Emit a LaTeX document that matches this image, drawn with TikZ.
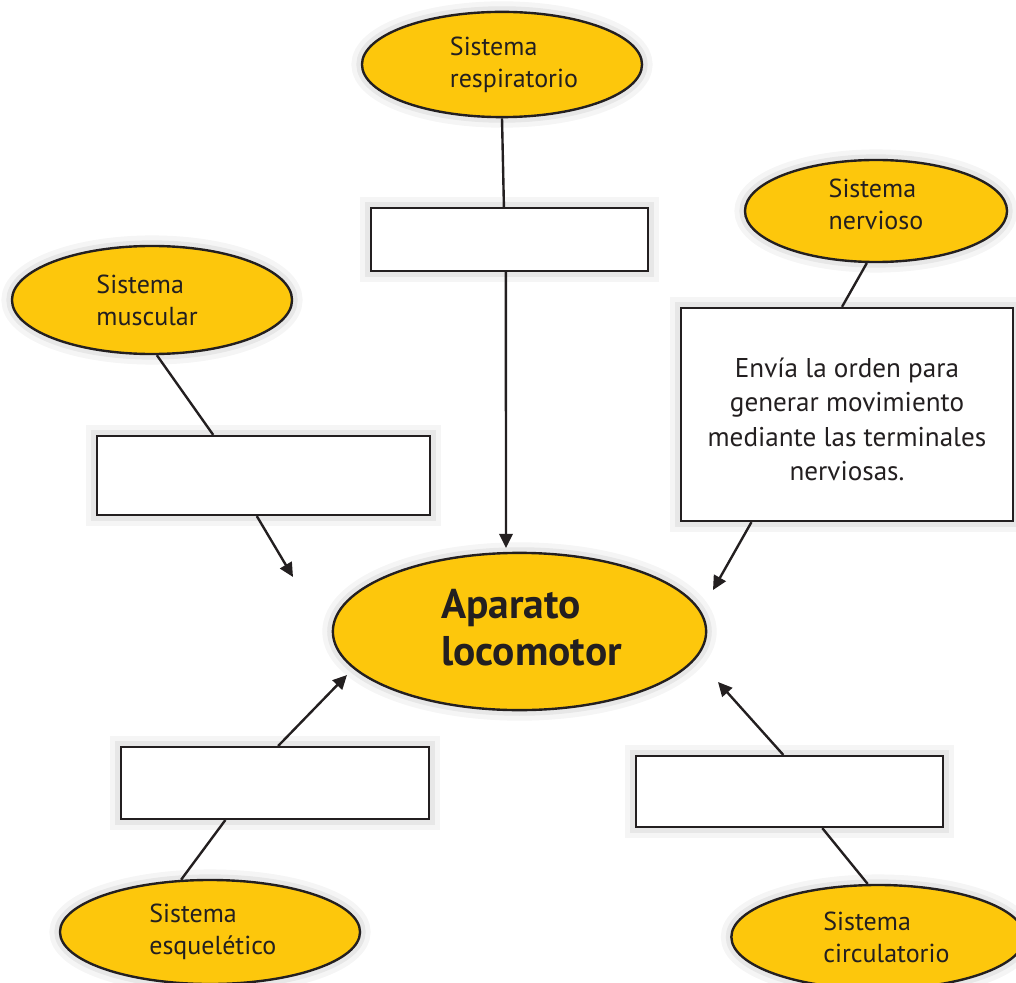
\documentclass[tikz,border=0pt]{standalone}
\usepackage{fontspec}
\setmainfont{PT Sans}
\usepackage{xcolor}
\usepackage{tikz}
\usetikzlibrary{shapes.geometric,arrows.meta,positioning,calc}

\definecolor{amarillo}{HTML}{FDC70C}
\definecolor{tinta}{HTML}{231F20}

\begin{document}
\begin{tikzpicture}[x=0.025cm, y=-0.025cm,
		halo/.style={preaction={draw=black, draw opacity=0.04, line width=15pt},
			preaction={draw=black, draw opacity=0.06, line width=8pt}},
		sistema/.style={ellipse, halo, draw=tinta, line width=1.7pt, fill=amarillo, inner sep=0pt,
			align=left, text=tinta, font=\fontsize{18.5}{22.8}\selectfont},
		caja/.style={rectangle, halo, draw=tinta, line width=1.4pt, fill=white, inner sep=0pt,
			align=center, text=tinta, font=\fontsize{19.3}{24.4}\selectfont},
		enlace/.style={draw=tinta, line width=1.7pt},
		flecha/.style={enlace, -{Triangle[length=10pt,width=9.5pt]}}]
		\useasboundingbox (0,0) rectangle (1016,983);
		\clip (0,0) rectangle (1016,983);

		% centro
		\node[sistema, minimum width=9.33cm, minimum height=3.93cm,
			font=\bfseries\fontsize{29.5}{33.4}\selectfont] (loco) at (519.5,631.5)
			{\hspace*{17pt}Aparato\\\hspace*{17pt}locomotor\rule[-6pt]{0pt}{6pt}};

		% sistemas
		\node[sistema, minimum width=7cm, minimum height=2.63cm] (resp) at (502,64.5)
			{\hspace*{17pt}Sistema\\\hspace*{17pt}respiratorio};
		\node[sistema, minimum width=6.55cm, minimum height=2.55cm] (nerv) at (876,211)
			{Sistema\\nervioso\rule[-9pt]{0pt}{9pt}};
		\node[sistema, minimum width=7cm, minimum height=2.7cm] (musc) at (152,300)
			{Sistema\\muscular\hspace*{7pt}};
		\node[sistema, minimum width=7.5cm, minimum height=2.6cm] (esq) at (210,932)
			{\hspace*{4pt}Sistema\\\hspace*{4pt}esquelético};
		\node[sistema, minimum width=7.33cm, minimum height=2.6cm] (circ) at (878,937)
			{\hspace*{12pt}Sistema\\\hspace*{12pt}circulatorio};

		% cajas
		\node[caja, minimum width=6.93cm, minimum height=1.58cm] (respcaja) at (509.5,239.5) {};
		\node[caja, minimum width=8.33cm, minimum height=1.98cm] (musccaja) at (263.5,475.5) {};
		\node[caja, minimum width=8.3cm, minimum height=5.33cm] (nervcaja) at (847,414.5)
			{\rule{0pt}{21pt}Envía la orden para\\generar movimiento\\
			mediante las terminales\\nerviosas.};
		\node[caja, minimum width=7.7cm, minimum height=1.8cm] (esqcaja) at (275,783) {};
		\node[caja, minimum width=7.68cm, minimum height=1.78cm] (circcaja) at (789.5,791.5) {};

		% puntas libres
		\coordinate (respfin) at (506,548);
		\coordinate (muscfin) at (293,577);
		\coordinate (nervfin) at (713,590);
		\coordinate (esqfin) at (347,675);
		\coordinate (circfin) at (718,682);

		% enlaces
		\draw[enlace] (resp.south) -- ($(respcaja.north west)!0.48!(respcaja.north east)$);
		\draw[flecha] ($(respcaja.south west)!0.487!(respcaja.south east)$) -- (respfin);

		\draw[enlace] (musc.-85) -- ($(musccaja.north west)!0.35!(musccaja.north east)$);
		\draw[flecha] ($(musccaja.south west)!0.48!(musccaja.south east)$) -- (muscfin);

		\draw[enlace] (nerv.-100) -- ($(nervcaja.north west)!0.485!(nervcaja.north east)$);
		\draw[flecha] ($(nervcaja.south west)!0.214!(nervcaja.south east)$) -- (nervfin);

		\draw[enlace] ($(esqcaja.south west)!0.34!(esqcaja.south east)$) -- (esq.119);
		\draw[flecha] ($(esqcaja.north west)!0.51!(esqcaja.north east)$) -- (esqfin);

		\draw[enlace] ($(circcaja.south west)!0.606!(circcaja.south east)$) -- (circ.101);
		\draw[flecha] ($(circcaja.north west)!0.48!(circcaja.north east)$) -- (circfin);
	\end{tikzpicture}
\end{document}
